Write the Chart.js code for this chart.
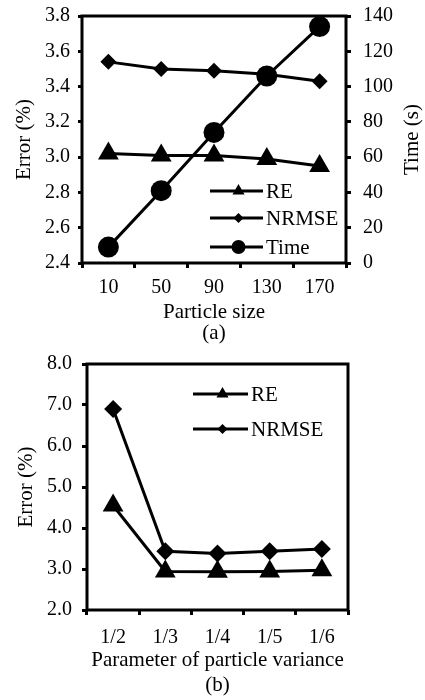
<!DOCTYPE html>
<html>
<head>
<meta charset="utf-8">
<script src="https://cdn.jsdelivr.net/npm/chart.js@4.4.1/dist/chart.umd.min.js"></script>
<style>
  html, body { margin: 0; padding: 0; background: #fff; }
  canvas { display: block; }
</style>
</head>
<body>
<canvas id="chartA" width="425" height="350"></canvas>
<canvas id="chartB" width="425" height="350"></canvas>
<script>
// (a) error and time against particle size
const particleSizes = ['10', '50', '90', '130', '170'];
const reA = [3.02, 3.01, 3.01, 2.99, 2.95];
const nrmseA = [3.54, 3.50, 3.49, 3.47, 3.43];
const timeA = [9, 41, 74, 106, 134];
const errorTicksA = [2.4, 3.8, 0.2];   // min, max, step
const timeTicksA = [0, 140, 20];

// (b) error against parameter of particle variance
const variances = ['1/2', '1/3', '1/4', '1/5', '1/6'];
const reB = [4.55, 2.94, 2.93, 2.94, 2.97];
const nrmseB = [6.90, 3.43, 3.38, 3.43, 3.49];
const errorTicksB = [2.0, 8.0, 1.0];

const FONT = 'Liberation Serif, Times New Roman, serif';
const INK = '#000';

function drawMarker(ctx, style, r, x, y) {
    ctx.beginPath();
    if (style === 'circle') {
        ctx.arc(x, y, r, 0, Math.PI * 2);
    } else if (style === 'triangle') {
        ctx.moveTo(x, y - r);
        ctx.lineTo(x + r * Math.sqrt(3) / 2, y + r / 2);
        ctx.lineTo(x - r * Math.sqrt(3) / 2, y + r / 2);
        ctx.closePath();
    } else {
        ctx.moveTo(x, y - r);
        ctx.lineTo(x + r, y);
        ctx.lineTo(x, y + r);
        ctx.lineTo(x - r, y);
        ctx.closePath();
    }
    ctx.fill();
}

// frame round the plot, legend inside it, right-hand title reading upwards
const framePlugin = {
    id: 'frame',
    afterDraw(chart, args, opts) {
        const { ctx, chartArea: a } = chart;
        ctx.save();
        ctx.strokeStyle = INK;
        ctx.lineWidth = 3;
        ctx.strokeRect(a.left, a.top, a.right - a.left, a.bottom - a.top);

        ctx.fillStyle = INK;
        ctx.font = '21px ' + FONT;
        ctx.textBaseline = 'middle';
        ctx.textAlign = 'left';
        chart.data.datasets.forEach((ds, i) => {
            const y = opts.y[i];
            ctx.beginPath();
            ctx.moveTo(opts.x1, y);
            ctx.lineTo(opts.x2, y);
            ctx.stroke();
            drawMarker(ctx, ds.pointStyle, opts.sizes[i], (opts.x1 + opts.x2) / 2 + 2, y);
            ctx.fillText(ds.label, opts.x2 + 3, y + 1);
        });

        if (opts.rightTitle) {
            ctx.translate(opts.rightX, (a.top + a.bottom) / 2);
            ctx.rotate(-Math.PI / 2);
            ctx.textAlign = 'center';
            ctx.fillText(opts.rightTitle, 0, 0);
        }
        ctx.restore();
    }
};

function line(label, data, style, radius, axis) {
    return {
        label: label,
        data: data,
        yAxisID: axis || 'y',
        borderColor: INK,
        backgroundColor: INK,
        borderWidth: 3,
        pointStyle: style,
        pointRadius: radius,
        pointHoverRadius: radius,
        pointBorderWidth: 0,
        pointBackgroundColor: INK,
        tension: 0,
        clip: false
    };
}

function xScale(caption, height, pad, lh, pb) {
    return {
        type: 'category',
        offset: true,
        border: { display: false },
        grid: { offset: true, drawOnChartArea: false, drawTicks: true, tickLength: 5, color: INK, lineWidth: 3 },
        ticks: { color: INK, font: { family: FONT, size: 20 }, padding: pad, maxRotation: 0 },
        title: {
            display: true, text: caption, color: INK,
            font: { family: FONT, size: 21, lineHeight: 1 * lh },
            padding: { top: 0, bottom: pb }
        },
        afterFit(s) { s.height = height; }
    };
}

function yScale(range, title, pos, width, tickLen, pad, digits, titlePad) {
    return {
        position: pos,
        min: range[0],
        max: range[1],
        border: { display: false },
        grid: { drawOnChartArea: false, drawTicks: true, tickLength: tickLen, color: INK, lineWidth: 3 },
        ticks: {
            stepSize: range[2],
            color: INK,
            // small lineHeight so the top label does not push the plot down
            font: { family: FONT, size: 20, lineHeight: 0.4 },
            padding: pad,
            callback: v => v.toFixed(digits)
        },
        title: {
            display: title !== null, text: title || '', color: INK,
            font: { family: FONT, size: 21, lineHeight: 1 },
            padding: { top: titlePad, bottom: 0 }
        },
        afterFit(s) { s.width = width; }
    };
}

new Chart(document.getElementById('chartA'), {
    type: 'line',
    data: {
        labels: particleSizes,
        datasets: [
            line('RE', reA, 'triangle', 12),
            line('NRMSE', nrmseA, 'rectRot', 8),
            line('Time', timeA, 'circle', 10.5, 'y1')
        ]
    },
    options: {
        responsive: false,
        animation: false,
        layout: { padding: { top: 15, left: 0, right: 0, bottom: 0 } },
        plugins: {
            legend: { display: false },
            tooltip: { enabled: false },
            frame: { x1: 210, x2: 263, y: [191, 218, 247], sizes: [7, 5, 7], rightTitle: 'Time (s)', rightX: 412 }
        },
        scales: {
            x: xScale(['Particle size', '(a)'], 87, 8, 1, 6.5),
            y: yScale(errorTicksA, 'Error (%)', 'left', 82, 4, 8, 1, 14),
            y1: yScale(timeTicksA, null, 'right', 79, 5, 12, 0, 0)
        }
    },
    plugins: [framePlugin]
});

new Chart(document.getElementById('chartB'), {
    type: 'line',
    data: {
        labels: variances,
        datasets: [
            line('RE', reB, 'triangle', 12),
            line('NRMSE', nrmseB, 'rectRot', 9)
        ]
    },
    options: {
        responsive: false,
        animation: false,
        layout: { padding: { top: 14, left: 0, right: 77, bottom: 0 } },
        plugins: {
            legend: { display: false },
            tooltip: { enabled: false },
            frame: { x1: 193, x2: 248, y: [44, 79], sizes: [7, 5] }
        },
        scales: {
            x: xScale(['Parameter of particle variance', '(b)'], 90, 11, 1.19, 2.5),
            y: yScale(errorTicksB, 'Error (%)', 'left', 87, 5, 10, 1, 16)
        }
    },
    plugins: [framePlugin]
});
</script>
</body>
</html>
